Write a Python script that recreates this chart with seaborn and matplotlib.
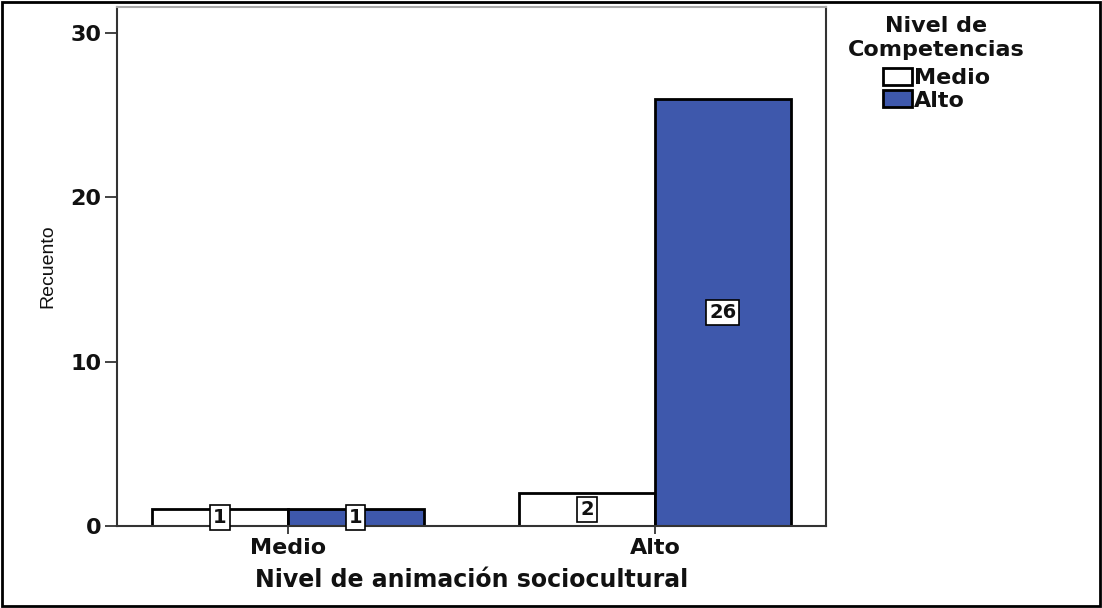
import matplotlib
matplotlib.use("Agg")
import matplotlib.pyplot as plt
import seaborn as sns
import pandas as pd
from matplotlib.patches import Rectangle

# data
categorias = ["Medio", "Alto"]          # Nivel de animación sociocultural
competencias = ["Medio", "Alto"]        # Nivel de Competencias (hue)
recuento_medio = [1, 2]
recuento_alto = [1, 26]
colores = {"Medio": "#ffffff", "Alto": "#3e58ac"}

df = pd.DataFrame({
    "animacion": categorias * 2,
    "competencias": [competencias[0]] * 2 + [competencias[1]] * 2,
    "recuento": recuento_medio + recuento_alto,
})

sns.set_style("white")
plt.rcParams["font.family"] = ["DejaVu Sans"]
plt.rcParams["text.color"] = "#111111"

fig = plt.figure(figsize=(11.02, 6.08), dpi=100)
ax = fig.add_axes([0.106, 0.135, 0.6435, 0.8535])

sns.barplot(
    data=df, x="animacion", y="recuento", hue="competencias",
    order=categorias, hue_order=competencias, palette=colores,
    saturation=1, width=0.74, edgecolor="black", linewidth=2, ax=ax, legend=True,
)

for cont in ax.containers:
    for bar in cont:
        h = bar.get_height()
        ax.text(bar.get_x() + bar.get_width() / 2, h / 2, f"{int(h)}",
                ha="center", va="center", fontsize=14, fontweight="bold",
                bbox=dict(boxstyle="square,pad=0.15", fc="white", ec="black", lw=1.2))

ax.set_xlim(-0.466, 1.466)
ax.set_ylim(0, 31.6)
ax.set_yticks([0, 10, 20, 30])
ax.tick_params(axis="both", labelsize=16, width=1.2, direction="out",
               left=True, bottom=True, colors="#222222")
ax.tick_params(axis="y", length=9, pad=2)
ax.tick_params(axis="x", length=6, pad=3)
for lab in ax.get_xticklabels() + ax.get_yticklabels():
    lab.set_fontweight("bold")
    lab.set_color("#111111")
for s in ax.spines.values():
    s.set_linewidth(1.5)
    s.set_color("#333333")
ax.spines["top"].set_color("#aaaaaa")
ax.set_xlabel("Nivel de animación sociocultural", fontsize=17, fontweight="bold",
              labelpad=7, color="#111111")
ax.set_ylabel("Recuento", fontsize=14, labelpad=10, color="#111111",
              family=["Liberation Sans Narrow", "Liberation Sans", "DejaVu Sans"])

leg = ax.legend(title="Nivel de\nCompetencias", loc="upper left",
                bbox_to_anchor=(1.009, 1.012), frameon=False, fontsize=16,
                title_fontsize=16, handlelength=1.3, handleheight=0.8,
                handletextpad=0.1, borderpad=0.2, labelspacing=0.1,
                alignment="center")
leg.get_title().set_fontweight("bold")
leg.get_title().set_multialignment("center")
leg._legend_box.sep = 6
for t in leg.get_texts():
    t.set_fontweight("bold")

# outer frame of the figure
fig.patches.append(Rectangle((0.002, 0.003), 0.996, 0.994, transform=fig.transFigure,
                             fill=False, ec="black", lw=2))

fig.savefig("out.png", dpi=100)
